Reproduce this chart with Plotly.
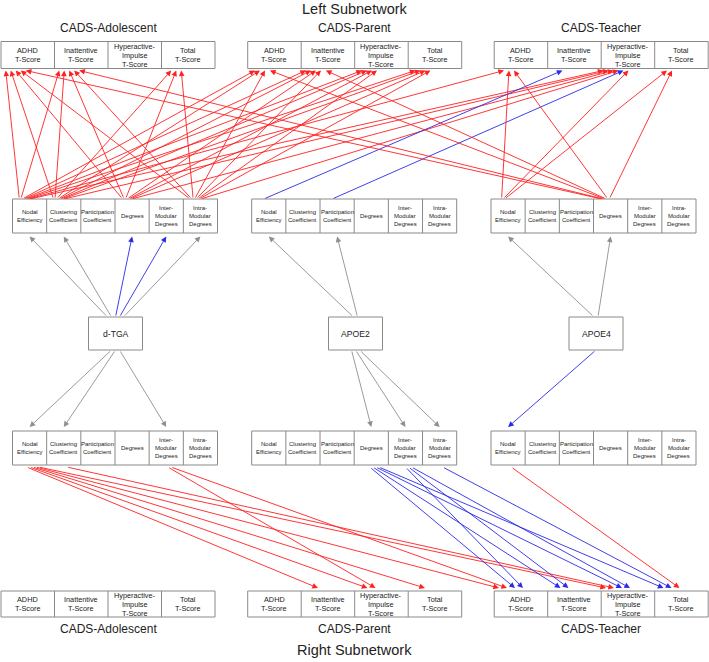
import plotly.graph_objects as go

# ---------------- data ----------------
subnetworks = ["Left Subnetwork", "Right Subnetwork"]
scales = ["CADS-Adolescent", "CADS-Parent", "CADS-Teacher"]
scores = ["ADHD", "Inatt", "Hyper", "Total"]
score_text = ["ADHD\nT-Score", "Inattentive\nT-Score", "Hyperactive-\nImpulse\nT-Score", "Total\nT-Score"]
genes = ["d-TGA", "APOE2", "APOE4"]
metrics = ["NE", "CC", "PC", "Deg", "Inter", "Intra"]
metric_text = ["Nodal\nEfficiency", "Clustering\nCoefficient", "Participation\nCoefficient",
               "Degrees", "Inter-\nModular\nDegrees", "Intra-\nModular\nDegrees"]

# gene -> network metric (gene, metric, sign)
gene_links_left = [
    ("d-TGA", "NE", "+"), ("d-TGA", "CC", "+"), ("d-TGA", "Deg", "-"), ("d-TGA", "Inter", "-"),
    ("d-TGA", "Intra", "+"),
    ("APOE2", "NE", "+"), ("APOE2", "PC", "+"),
    ("APOE4", "NE", "+"), ("APOE4", "Deg", "+"),
]
gene_links_right = [
    ("d-TGA", "NE", "+"), ("d-TGA", "CC", "+"), ("d-TGA", "Inter", "+"),
    ("APOE2", "Deg", "+"), ("APOE2", "Inter", "+"), ("APOE2", "Intra", "+"),
    ("APOE4", "NE", "-"),
]

# network metric -> behaviour score (gene, metric, scale, score, sign)
score_links_left = [
    ("d-TGA", "NE", "CADS-Adolescent", "ADHD", "+"), ("d-TGA", "NE", "CADS-Adolescent", "Inatt", "+"),
    ("d-TGA", "NE", "CADS-Parent", "ADHD", "+"), ("d-TGA", "NE", "CADS-Parent", "Inatt", "+"),
    ("d-TGA", "NE", "CADS-Parent", "Hyper", "+"), ("d-TGA", "NE", "CADS-Parent", "Total", "+"),
    ("d-TGA", "NE", "CADS-Teacher", "ADHD", "+"), ("d-TGA", "NE", "CADS-Teacher", "Hyper", "+"),
    ("d-TGA", "CC", "CADS-Adolescent", "ADHD", "+"), ("d-TGA", "CC", "CADS-Adolescent", "Inatt", "+"),
    ("d-TGA", "CC", "CADS-Adolescent", "Total", "+"), ("d-TGA", "CC", "CADS-Parent", "ADHD", "+"),
    ("d-TGA", "CC", "CADS-Parent", "Inatt", "+"), ("d-TGA", "CC", "CADS-Parent", "Hyper", "+"),
    ("d-TGA", "CC", "CADS-Parent", "Total", "+"), ("d-TGA", "CC", "CADS-Teacher", "Hyper", "+"),
    ("d-TGA", "Deg", "CADS-Adolescent", "ADHD", "+"), ("d-TGA", "Deg", "CADS-Adolescent", "Inatt", "+"),
    ("d-TGA", "Deg", "CADS-Adolescent", "Total", "+"), ("d-TGA", "Deg", "CADS-Parent", "Inatt", "+"),
    ("d-TGA", "Deg", "CADS-Parent", "Hyper", "+"), ("d-TGA", "Deg", "CADS-Parent", "Total", "+"),
    ("d-TGA", "Deg", "CADS-Teacher", "Hyper", "+"),
    ("d-TGA", "Intra", "CADS-Adolescent", "ADHD", "+"), ("d-TGA", "Intra", "CADS-Adolescent", "Inatt", "+"),
    ("d-TGA", "Intra", "CADS-Adolescent", "Total", "+"), ("d-TGA", "Intra", "CADS-Parent", "ADHD", "+"),
    ("d-TGA", "Intra", "CADS-Parent", "Inatt", "+"), ("d-TGA", "Intra", "CADS-Parent", "Hyper", "+"),
    ("d-TGA", "Intra", "CADS-Parent", "Total", "+"), ("d-TGA", "Intra", "CADS-Teacher", "Hyper", "+"),
    ("APOE2", "NE", "CADS-Teacher", "Inatt", "-"), ("APOE2", "PC", "CADS-Teacher", "Hyper", "-"),
    ("APOE4", "NE", "CADS-Teacher", "ADHD", "+"), ("APOE4", "NE", "CADS-Teacher", "Hyper", "+"),
    ("APOE4", "NE", "CADS-Teacher", "Total", "+"),
    ("APOE4", "Deg", "CADS-Adolescent", "ADHD", "+"), ("APOE4", "Deg", "CADS-Adolescent", "Inatt", "+"),
    ("APOE4", "Deg", "CADS-Parent", "ADHD", "+"), ("APOE4", "Deg", "CADS-Parent", "Inatt", "+"),
    ("APOE4", "Deg", "CADS-Teacher", "ADHD", "+"), ("APOE4", "Deg", "CADS-Teacher", "Total", "+"),
]
score_links_right = [
    ("d-TGA", "NE", "CADS-Parent", "Inatt", "+"), ("d-TGA", "NE", "CADS-Parent", "Hyper", "+"),
    ("d-TGA", "NE", "CADS-Parent", "Total", "+"), ("d-TGA", "NE", "CADS-Teacher", "ADHD", "+"),
    ("d-TGA", "NE", "CADS-Teacher", "Hyper", "+"),
    ("d-TGA", "CC", "CADS-Teacher", "Hyper", "+"),
    ("d-TGA", "Inter", "CADS-Parent", "Hyper", "+"), ("d-TGA", "Inter", "CADS-Teacher", "ADHD", "+"),
    ("APOE2", "Deg", "CADS-Teacher", "ADHD", "-"), ("APOE2", "Deg", "CADS-Teacher", "Inatt", "-"),
    ("APOE2", "Deg", "CADS-Teacher", "Hyper", "-"), ("APOE2", "Deg", "CADS-Teacher", "Total", "-"),
    ("APOE2", "Inter", "CADS-Teacher", "ADHD", "-"), ("APOE2", "Inter", "CADS-Teacher", "Inatt", "-"),
    ("APOE2", "Inter", "CADS-Teacher", "Hyper", "-"),
    ("APOE2", "Intra", "CADS-Teacher", "Total", "-"),
    ("APOE4", "NE", "CADS-Teacher", "Total", "+"),
]

# ---------------- layout geometry ----------------
W, H = 709, 662
FONT = "Arial, Liberation Sans, sans-serif"
TXT = "#222222"
BOX = "#8a8a8a"
RED, BLUE, GRAY = "#ff2020", "#2a2ae8", "#8f8f8f"

row_top, row_upper, row_gene, row_lower, row_bottom = (41.5, 68.5), (199, 233), (317, 350), (431, 465), (591, 617)
scale_cx, scale_w = [108, 354.7, 601.2], 214
group_cx, group_w = [115, 354.2, 593.5], 205
gene_cx, gene_w = [115.5, 355.5, 596], 54

shapes, annotations = [], []


def text(x, y, s, size, color=TXT):
    annotations.append(dict(x=x, y=y, xref="x", yref="y", text=s, showarrow=False,
                            font=dict(family=FONT, size=size, color=color),
                            xanchor="center", yanchor="middle"))


def multiline(x, yc, s, size, spacing):
    lines = s.split("\n")
    n = len(lines)
    for i, ln in enumerate(lines):
        text(x, yc + (i - (n - 1) / 2) * spacing, ln, size)


def box_row(cx, w, y0, y1, labels, size, spacing):
    x0 = cx - w / 2
    n = len(labels)
    cw = w / n
    shapes.append(dict(type="rect", xref="x", yref="y", x0=x0, x1=x0 + w, y0=y0, y1=y1,
                       line=dict(color=BOX, width=1), fillcolor="white", layer="above"))
    for k in range(1, n):
        shapes.append(dict(type="line", xref="x", yref="y", x0=x0 + k * cw, x1=x0 + k * cw, y0=y0, y1=y1,
                           line=dict(color=BOX, width=1), layer="above"))
    for k, lab in enumerate(labels):
        multiline(x0 + (k + 0.5) * cw, (y0 + y1) / 2, lab, size, spacing)


def score_x(scale, score):
    i, j = scales.index(scale), scores.index(score)
    return scale_cx[i] - scale_w / 2 + (j + 0.5) * scale_w / 4


def metric_x(gene, metric):
    g, m = genes.index(gene), metrics.index(metric)
    return group_cx[g] - group_w / 2 + (m + 0.5) * group_w / 6


def arrow(x0, y0, x1, y1, color):
    annotations.append(dict(x=x1, y=y1, ax=x0, ay=y0, xref="x", yref="y", axref="x", ayref="y",
                            text="", showarrow=True, arrowhead=2, arrowsize=1.25, arrowwidth=0.9,
                            arrowcolor=color, standoff=0, startstandoff=0))


# titles
text(354.5, 8.5, subnetworks[0], 14.5)
text(354.5, 650, subnetworks[1], 14.5)
for i, s in enumerate(scales):
    text(scale_cx[i], 27.5, s, 12)
    text(scale_cx[i], 628.5, s, 12)

# boxes
for i in range(3):
    box_row(scale_cx[i], scale_w, *row_top, score_text, 7.3, 9)
    box_row(scale_cx[i], scale_w, *row_bottom, score_text, 7.3, 9)
    box_row(group_cx[i], group_w, *row_upper, metric_text, 6, 7.7)
    box_row(group_cx[i], group_w, *row_lower, metric_text, 6, 7.7)
    box_row(gene_cx[i], gene_w, *row_gene, [genes[i]], 8.6, 10)


# gene -> metric arrows
def gene_arrows(links, upward):
    by_gene = {}
    for g, m, sgn in links:
        by_gene.setdefault(g, []).append((metric_x(g, m), sgn))
    for g, lst in by_gene.items():
        lst.sort()
        n = len(lst)
        gx = gene_cx[genes.index(g)]
        for k, (mx, sgn) in enumerate(lst):
            sx = gx + (k - (n - 1) / 2) * 4
            col = GRAY if sgn == "+" else BLUE
            if upward:
                arrow(sx, row_gene[0], mx, row_upper[1] + 3.5, col)
            else:
                arrow(sx, row_gene[1], mx, row_lower[0] - 4, col)


gene_arrows(gene_links_left, True)
gene_arrows(gene_links_right, False)


# metric -> score arrows
def score_arrows(links, upward):
    edges = []
    for g, m, sc, so, sgn in links:
        edges.append(dict(sx=metric_x(g, m), tx=score_x(sc, so), col=RED if sgn == "+" else BLUE,
                          skey=(g, m), tkey=(sc, so)))
    src = {}
    for e in edges:
        src.setdefault(e["skey"], []).append(e)
    for key, lst in src.items():
        lst.sort(key=lambda e: e["tx"])
        n = len(lst)
        for k, e in enumerate(lst):
            if upward:
                e["x0"] = e["sx"] - 5 + (k - (n - 1) / 2) * 1.5
            else:
                e["x0"] = e["sx"] + 3 + (k - (n - 1) / 2) * 3
    tgt = {}
    for e in edges:
        tgt.setdefault(e["tkey"], []).append(e)
    for key, lst in tgt.items():
        lst.sort(key=lambda e: e["x0"])
        n = len(lst)
        for k, e in enumerate(lst):
            if upward:
                e["x1"] = e["tx"] - 12 + (k - (n - 1) / 2) * 5
            else:
                e["x1"] = e["tx"] - 10 + (k - (n - 1) / 2) * 8
    for e in edges:
        if upward:
            arrow(e["x0"], row_upper[0], e["x1"], row_top[1] + 2, e["col"])
        else:
            arrow(e["x0"], row_lower[1] + 2, e["x1"], row_bottom[0] - 3, e["col"])


score_arrows(score_links_left, True)
score_arrows(score_links_right, False)

fig = go.Figure()
fig.update_layout(
    width=W, height=H, margin=dict(l=0, r=0, t=0, b=0),
    paper_bgcolor="white", plot_bgcolor="white",
    xaxis=dict(range=[0, W], visible=False, fixedrange=True),
    yaxis=dict(range=[H, 0], visible=False, fixedrange=True),
    shapes=shapes, annotations=annotations, showlegend=False,
)
fig.write_html("out.html", config={"displayModeBar": False},
               post_script="document.body.style.margin='0';document.body.style.padding='0';"
                           "document.body.style.overflow='hidden';")
